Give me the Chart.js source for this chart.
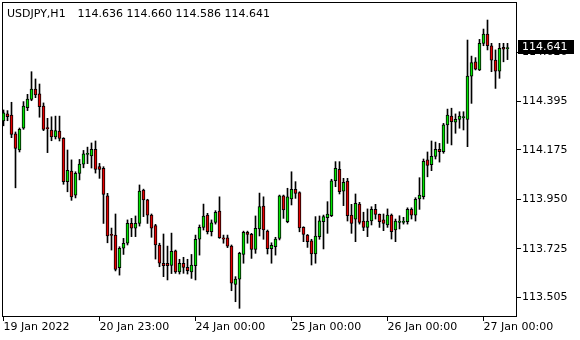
<!DOCTYPE html>
<html><head><meta charset="utf-8">
<script src="https://cdn.jsdelivr.net/npm/chart.js@4.4.1/dist/chart.umd.min.js"></script>
<style>html,body{margin:0;padding:0;background:#fff;}canvas{display:block}</style>
</head><body>
<canvas id="c" width="580" height="340"></canvas>
<script>
const symbol = "USDJPY,H1";
const opens = [114.307,114.339,114.334,114.248,114.175,114.274,114.367,114.405,114.452,114.430,
114.375,114.274,114.266,114.235,114.261,114.228,114.031,114.079,113.970,114.069,
114.110,114.155,114.148,114.178,114.099,114.092,113.967,113.788,113.788,113.640,
113.728,113.751,113.841,113.819,113.841,113.993,113.948,113.879,113.831,113.743,
113.660,113.660,113.650,113.716,113.621,113.660,113.641,113.621,113.649,113.769,
113.823,113.879,113.803,113.846,113.897,113.776,113.776,113.738,113.564,113.588,
113.700,113.801,113.791,113.723,113.816,113.920,113.806,113.726,113.735,113.773,
113.966,113.849,113.953,113.996,113.981,113.823,113.788,113.762,113.702,113.781,
113.849,113.867,113.876,114.035,114.087,113.988,114.034,113.879,113.860,113.929,
113.852,113.823,113.852,113.905,113.882,113.857,113.834,113.879,113.811,113.846,
113.846,113.849,113.905,113.879,113.952,113.963,114.130,114.108,114.146,114.178,
114.167,114.289,114.329,114.301,114.314,114.322,114.314,114.511,114.576,114.539,
114.660,114.702,114.649,114.584,114.534,114.642,114.636];
const highs = [114.357,114.354,114.392,114.257,114.275,114.395,114.428,114.531,114.498,114.475,
114.389,114.319,114.326,114.329,114.329,114.231,114.175,114.130,114.076,114.132,
114.173,114.188,114.207,114.216,114.114,114.099,113.978,113.820,113.884,113.735,
113.773,113.857,113.864,113.875,114.016,113.997,113.951,113.884,113.837,113.751,
113.793,113.738,113.797,113.720,113.678,113.687,113.678,113.700,113.788,113.834,
113.929,113.887,113.857,113.899,113.962,113.788,113.788,113.743,113.599,113.710,
113.806,113.806,113.796,113.875,113.979,113.962,113.811,113.753,113.778,113.970,
113.970,114.001,114.076,114.031,113.985,113.826,113.791,113.769,113.872,113.875,
113.879,113.940,114.042,114.122,114.122,114.046,114.046,113.928,113.975,113.937,
113.892,113.907,113.917,113.928,113.884,113.884,113.907,113.884,113.861,113.876,
113.869,113.912,113.912,113.958,114.049,114.134,114.166,114.216,114.211,114.205,
114.296,114.361,114.365,114.339,114.349,114.349,114.675,114.602,114.595,114.678,
114.725,114.766,114.660,114.630,114.660,114.660,114.660];
const lows = [114.285,114.308,114.231,114.003,114.166,114.269,114.354,114.399,114.413,114.324,
114.263,114.163,114.217,114.225,114.216,114.019,113.985,113.946,113.957,114.039,
114.094,114.113,114.093,114.070,114.046,113.841,113.753,113.720,113.625,113.606,
113.700,113.743,113.781,113.781,113.829,113.872,113.841,113.778,113.679,113.644,
113.599,113.584,113.613,113.614,113.611,113.614,113.611,113.591,113.584,113.697,
113.811,113.793,113.784,113.838,113.773,113.751,113.731,113.535,113.485,113.455,
113.660,113.751,113.682,113.705,113.784,113.769,113.702,113.660,113.697,113.766,
113.864,113.844,113.925,113.955,113.803,113.758,113.732,113.652,113.660,113.769,
113.725,113.796,113.872,114.008,113.975,113.922,113.852,113.796,113.758,113.838,
113.808,113.781,113.834,113.861,113.823,113.808,113.823,113.770,113.758,113.816,
113.838,113.838,113.861,113.852,113.905,113.952,114.053,114.081,114.134,114.120,
114.160,114.205,114.198,114.251,114.274,114.266,114.190,114.387,114.539,114.536,
114.649,114.630,114.531,114.455,114.501,114.576,114.586];
const closes = [114.344,114.326,114.246,114.182,114.269,114.375,114.407,114.452,114.425,114.372,
114.269,114.272,114.235,114.263,114.228,114.031,114.083,113.962,114.069,114.111,
114.157,114.157,114.178,114.087,114.087,113.973,113.784,113.787,113.632,113.728,
113.751,113.841,113.819,113.841,113.988,113.948,113.879,113.819,113.743,113.660,
113.649,113.649,113.714,113.621,113.660,113.641,113.626,113.652,113.769,113.823,
113.875,113.803,113.844,113.892,113.776,113.770,113.738,113.569,113.588,113.705,
113.801,113.791,113.723,113.819,113.918,113.811,113.726,113.741,113.770,113.966,
113.902,113.962,113.996,113.978,113.821,113.791,113.758,113.702,113.784,113.853,
113.872,113.884,114.035,114.092,113.985,114.028,113.876,113.841,113.932,113.846,
113.823,113.852,113.905,113.882,113.849,113.841,113.879,113.803,113.852,113.852,
113.849,113.905,113.879,113.951,113.970,114.123,114.105,114.146,114.178,114.167,
114.289,114.334,114.304,114.314,114.329,114.326,114.511,114.572,114.542,114.660,
114.702,114.649,114.584,114.534,114.637,114.633,114.641];
const xTickIndex = [0, 24, 48, 72, 96, 120];
const xTickLabels = ["19 Jan 2022", "20 Jan 23:00", "24 Jan 00:00", "25 Jan 00:00", "26 Jan 00:00", "27 Jan 00:00"];
const yTicks = [113.505, 113.725, 113.950, 114.175, 114.395, 114.620];
const yMin = 113.4155, yMax = 114.848;

const FONT = '"DejaVu Sans", sans-serif';
const bull = '#00e400', bear = '#e40000';
const idx = opens.map((_, i) => i);
const bodies = idx.map(i => ({x: i, y: [opens[i], closes[i]]}));
const wicks = idx.map(i => ({x: i, y: [lows[i], highs[i]]}));
const last = opens.length - 1;

const framePlugin = {
  id: 'frame',
  beforeDatasetsDraw(chart) {
    const {ctx, chartArea: a} = chart;
    ctx.save();
    ctx.strokeStyle = '#000'; ctx.lineWidth = 1;
    ctx.strokeRect(a.left + 0.5, a.top + 0.5, a.right - a.left - 1, a.bottom - a.top - 1);
    ctx.restore();
  },
  afterDraw(chart) {
    const {ctx} = chart;
    ctx.save();
    ctx.font = '11px ' + FONT;
    ctx.fillStyle = '#000';
    ctx.textBaseline = 'alphabetic';
    ctx.textAlign = 'left';
    ctx.fillText(symbol, 7, 16.5);
    ctx.fillText([opens[last], highs[last], lows[last], closes[last]].map(v => v.toFixed(3)).join(' '), 77.5, 16.5);
    const ys = chart.scales.y;
    const py = Math.floor(ys.getPixelForValue(closes[last]));
    ctx.fillStyle = '#000';
    ctx.fillRect(518, py - 7, 56, 14);
    ctx.fillStyle = '#fff';
    ctx.textBaseline = 'middle';
    ctx.fillText(closes[last].toFixed(3), 522, py + 0.5);
    ctx.restore();
  }
};

new Chart(document.getElementById('c'), {
  type: 'bar',
  data: {
    datasets: [
      {label: 'body', data: bodies, grouped: false, maxBarThickness: 3, barPercentage: 1, categoryPercentage: 1,
       minBarLength: 1, borderWidth: 1, borderSkipped: false, borderColor: '#000',
       backgroundColor: idx.map(i => closes[i] >= opens[i] ? bull : bear)},
      {label: 'wick', data: wicks, grouped: false, maxBarThickness: 1, barPercentage: 1, categoryPercentage: 1,
       minBarLength: 1, borderWidth: 0, backgroundColor: '#000'}
    ]
  },
  options: {
    responsive: false, animation: false, devicePixelRatio: 1,
    layout: {padding: {left: 2, top: 2, right: 0, bottom: 0}},
    plugins: {legend: {display: false}, tooltip: {enabled: false}, title: {display: false}},
    scales: {
      x: {
        type: 'linear', min: -0.375, max: 128.375, offset: false,
        grid: {display: true, offset: false, drawOnChartArea: false, drawTicks: true, tickLength: 4, color: '#000', lineWidth: 1},
        border: {display: false},
        afterBuildTicks: s => { s.ticks = xTickIndex.map(v => ({value: v})); },
        afterFit: s => { s.height = 23; s.paddingLeft = 0; s.paddingRight = 0; },
        ticks: {
          autoSkip: false, maxRotation: 0, minRotation: 0, align: 'start', padding: 0,
          color: '#000', font: {family: FONT, size: 11},
          callback: v => xTickLabels[xTickIndex.indexOf(v)]
        }
      },
      y: {
        type: 'linear', position: 'right', min: yMin, max: yMax, beginAtZero: false,
        grid: {display: true, drawOnChartArea: false, drawTicks: true, tickLength: 4, color: '#000', lineWidth: 1},
        border: {display: false},
        afterBuildTicks: s => { s.ticks = yTicks.map(v => ({value: v})); },
        afterFit: s => { s.width = 63; s.paddingTop = 0; s.paddingBottom = 0; },
        ticks: {
          padding: 1, color: '#000', font: {family: FONT, size: 11},
          callback: v => Number(v).toFixed(3)
        }
      }
    }
  },
  plugins: [framePlugin]
});
</script>
</body></html>
